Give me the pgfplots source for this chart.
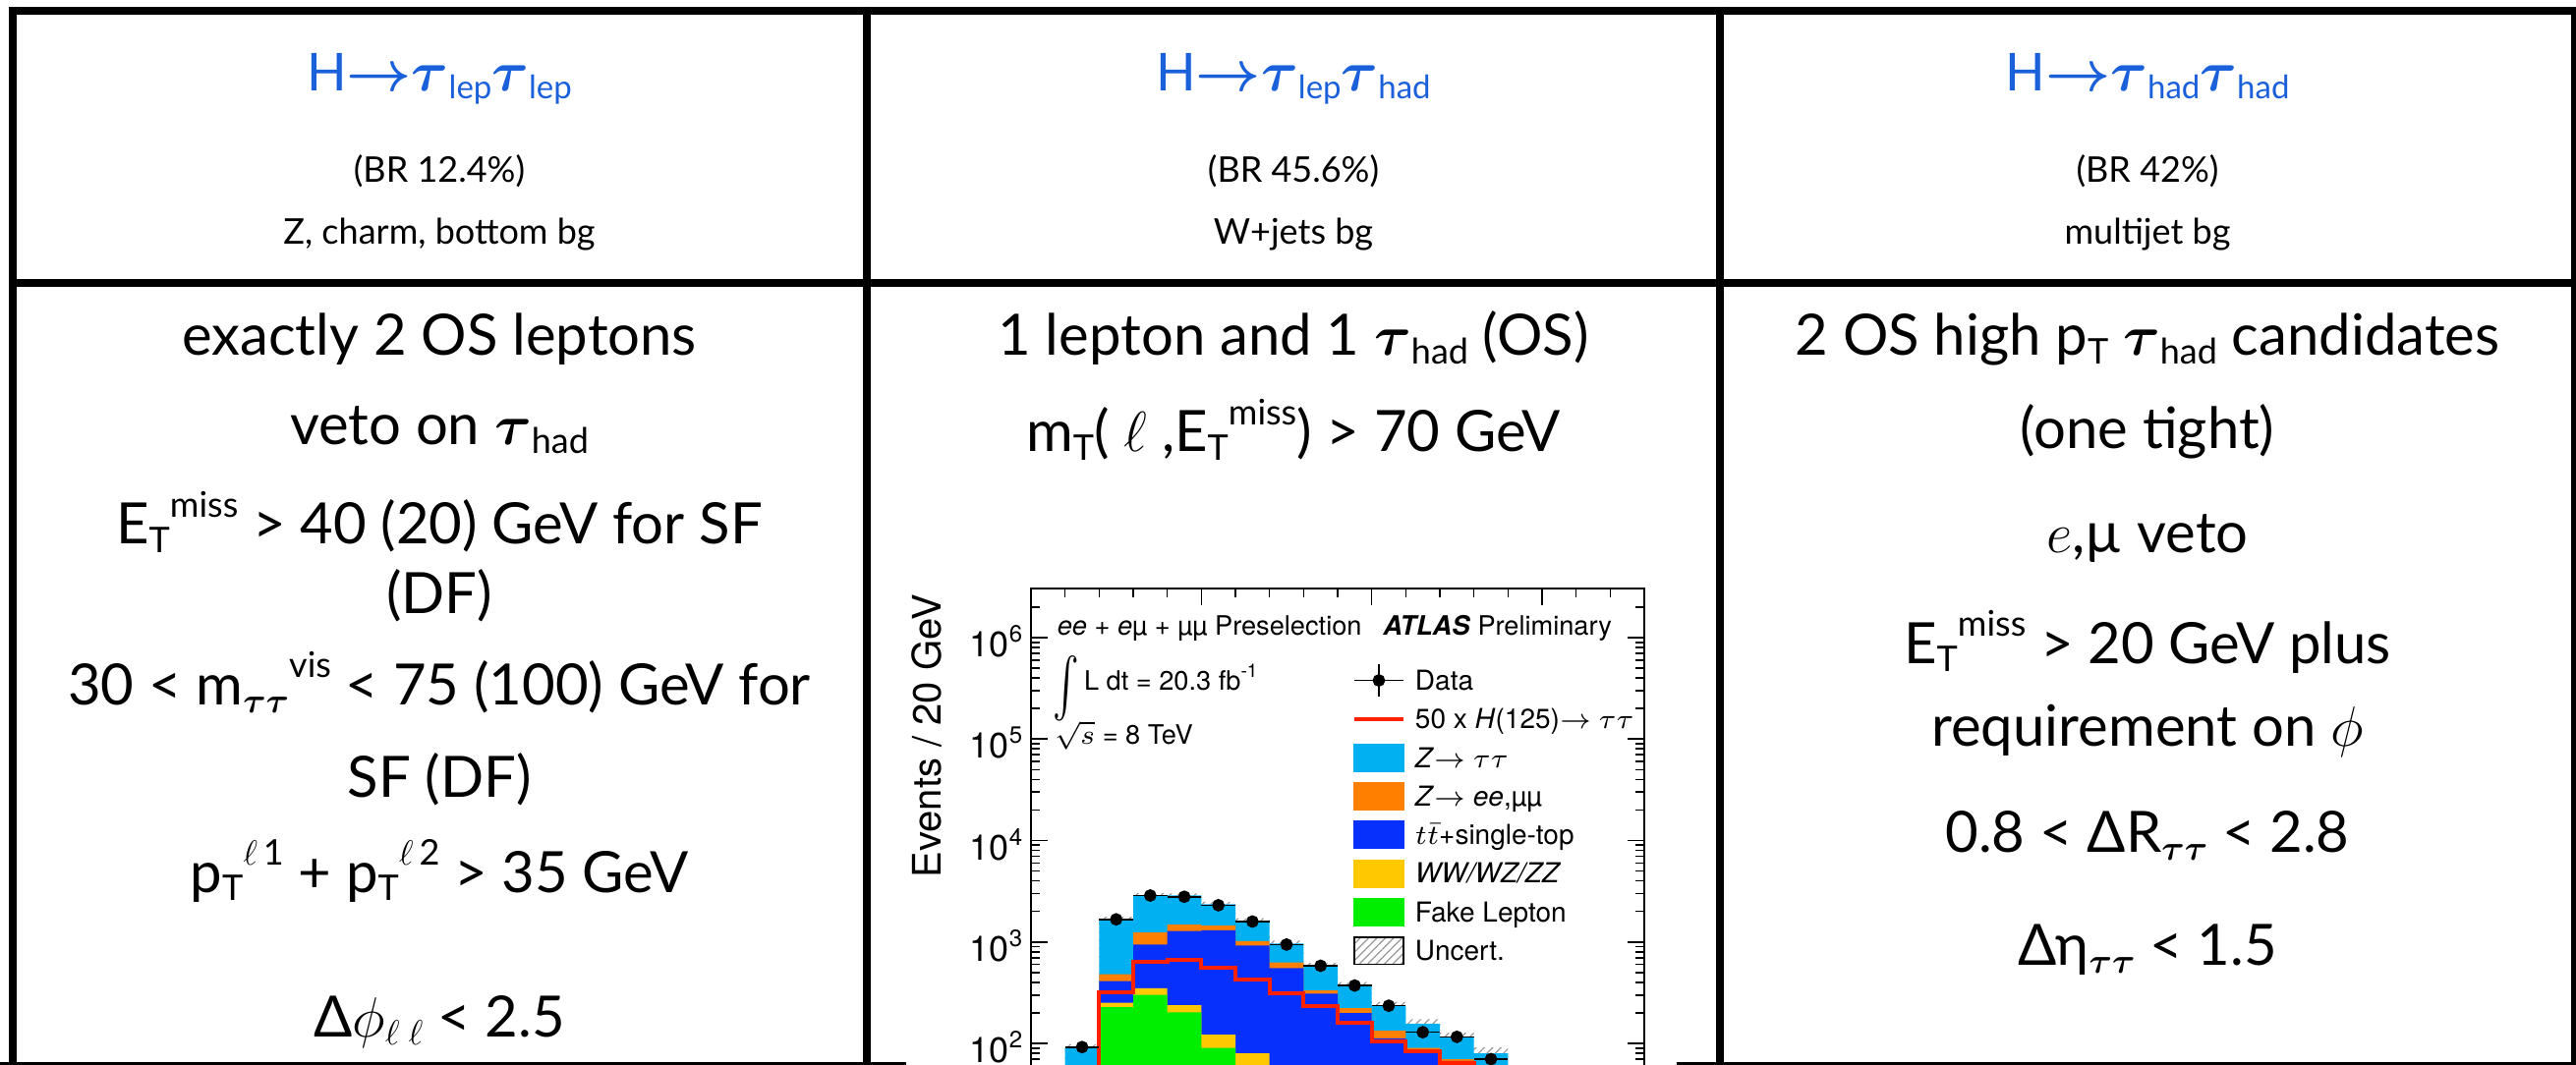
\documentclass[border=0pt]{standalone}
\usepackage{fontspec}
\setmainfont{Lato}
\newfontfamily\chartfont{TeX Gyre Heros}
\usepackage{bm}
\usepackage{graphicx}
\usepackage{pgfplots}
\pgfplotsset{compat=1.18}
\usepackage{pgfplotstable}
\usetikzlibrary{patterns.meta}

\definecolor{titleblue}{RGB}{26,96,218}
\definecolor{ztt}{RGB}{0,176,240}
\definecolor{zll}{RGB}{255,128,0}
\definecolor{ttop}{RGB}{8,48,252}
\definecolor{vv}{RGB}{255,200,0}
\definecolor{fake}{RGB}{0,238,0}
\definecolor{sig}{RGB}{255,32,0}

\newcommand{\sub}[1]{\raisebox{-0.28ex}{\scalebox{0.62}{#1}}}
\newcommand{\sups}[1]{\raisebox{0.95ex}{\scalebox{0.62}{#1}}}
\newcommand{\tauB}{$\bm{\tau}$}
\newcommand{\bodyfont}{\fontsize{14.5pt}{17pt}\selectfont}
\newcommand{\titlefont}{\fontsize{13.3pt}{15pt}\selectfont}
\newcommand{\headfont}{\fontsize{9pt}{10.5pt}\selectfont}
\newcommand{\plotfont}{\chartfont\fontsize{6.8pt}{8pt}\selectfont}
\newcommand{\legfont}{\chartfont\fontsize{7pt}{8pt}\selectfont}
\newcommand{\axisfont}{\chartfont\fontsize{9pt}{10pt}\selectfont}
\newcommand{\ylabfont}{\chartfont\fontsize{10pt}{11pt}\selectfont}

% Stack tops per 20 GeV bin (cumulative), data and 50 x signal
% x = bin centre; ztt = total stack, zll/top/vv/fake = tops of lower layers
\pgfplotstableread{
x    data  err   ztt   zll   top   vv    fake  sig  unc
30   92    9.6   91    30    25    15    10    20   0.08
50   1670  40.9  1690  480   410   252   228   318  0.05
70   2870  53.6  2900  1240  945   350   300   640  0.05
90   2790  52.8  2870  1480  1280  238   202   672  0.05
110  2300  48.0  2350  1450  1300  122   90    560  0.06
130  1590  39.9  1620  1020  922   80    45    425  0.06
150  943   30.7  963   627   552   45    25    309  0.07
170  582   24.1  582   333   309   30    15    235  0.07
190  372   19.3  372   223   199   20    10    160  0.08
210  235   15.3  235   133   112   14    6     105  0.09
230  129   11.4  156   90    86    9     4     83   0.11
250  116   10.8  114   70    67    6     3     64   0.12
270  70    8.4   80    50    46    4     2     45   0.14
290  45    6.7   52    32    30    3     1.5   30   0.15
310  30    5.5   34    21    19    2     1     20   0.16
330  18    4.2   22    14    12    1.5   0.7   13   0.18
350  12    3.5   14    9     8     1     0.5   8    0.20
}\hist

\begin{document}
\begin{tikzpicture}[x=0.25pt,y=0.25pt]

% table rules
\draw[line width=2pt] (9,1072.3) -- (2621,1072.3);
\draw[line width=2pt] (13,1076.3) -- (13,0);
\draw[line width=2pt] (9,795) -- (2621,795);
\draw[line width=2pt] (882,1076.3) -- (882,0);
\draw[line width=2pt] (1750,1076.3) -- (1750,0);
\draw[line width=2pt] (2620,1076.3) -- (2620,0);
\draw[line width=2pt] (0,-2) -- (922,-2);
\draw[line width=2pt] (1706,-2) -- (2621,-2);

% header row
\node[anchor=base, inner sep=0, text=titleblue, font=\titlefont] at (447,990)
  {H$\bm{\rightarrow}$\tauB\sub{lep}\tauB\sub{lep}};
\node[anchor=base, inner sep=0, text=titleblue, font=\titlefont] at (1316,990)
  {H$\bm{\rightarrow}$\tauB\sub{lep}\tauB\sub{had}};
\node[anchor=base, inner sep=0, text=titleblue, font=\titlefont] at (2185,990)
  {H$\bm{\rightarrow}$\tauB\sub{had}\tauB\sub{had}};
\node[anchor=base, inner sep=0, font=\headfont] at (447,897) {(BR 12.4\%)};
\node[anchor=base, inner sep=0, font=\headfont] at (1316,897) {(BR 45.6\%)};
\node[anchor=base, inner sep=0, font=\headfont] at (2185,897) {(BR 42\%)};
\node[anchor=base, inner sep=0, font=\headfont] at (447,834) {Z, charm, bottom bg};
\node[anchor=base, inner sep=0, font=\headfont] at (1316,834) {W+jets bg};
\node[anchor=base, inner sep=0, font=\headfont] at (2185,834) {multijet bg};

% lep-lep selection
\begin{scope}[every node/.style={anchor=base, inner sep=0, font=\bodyfont}]
\node at (447,721) {exactly 2 OS leptons};
\node at (447,630) {veto on \tauB\sub{had}};
\node at (447,529) {E\sub{T}\sups{miss} > 40 (20) GeV for SF};
\node at (447,459) {(DF)};
\node at (447,366) {30 < m\sub{$\bm{\tau\tau}$}\sups{vis} < 75 (100) GeV for};
\node at (447,272) {SF (DF)};
\node at (447,175) {p\sub{T}\sups{$\ell$\,1} + p\sub{T}\sups{$\ell$\,2} > 35 GeV};
\node at (447,28) {Δ$\phi$\sub{$\ell$\ $\ell$} < 2.5};
% lep-had selection
\node at (1316,721) {1 lepton and 1 \tauB\sub{had} (OS)};
\node at (1316,623) {m\sub{T}( $\ell$ ,E\sub{T}\sups{miss}) > 70 GeV};
% had-had selection
\node at (2185,721) {2 OS high p\sub{T} \tauB\sub{had} candidates};
\node at (2185,627) {(one tight)};
\node at (2185,521) {$e$,µ veto};
\node at (2185,408) {E\sub{T}\sups{miss} > 20 GeV plus};
\node at (2185,324) {requirement on $\phi$};
\node at (2185,216) {0.8 < ΔR\sub{$\bm{\tau\tau}$} < 2.8};
\node at (2185,101) {Δη\sub{$\bm{\tau\tau}$} < 1.5};
\end{scope}

% lower-left corner of the plot frame
\coordinate (frameLL) at (1049,-5);

% preselection distribution
\begin{axis}[
  at={(frameLL)}, anchor=south west, scale only axis,
  width=156pt, height=122.25pt,
  xmin=0, xmax=360, ymode=log, ymin=56.0, ymax=3.05e6,
  axis on top, clip=true,
  axis line style={line width=0.4pt},
  tick style={line width=0.4pt, black},
  tick align=inside,
  major tick length=4.25pt, minor tick length=2.25pt,
  xtick={0,100,200,300}, xticklabels={}, minor xtick={20,40,...,340}, xtick pos=right,
  ytick={100,1000,10000,100000,1000000},
  yticklabels={10\textsuperscript{2},10\textsuperscript{3},10\textsuperscript{4},10\textsuperscript{5},10\textsuperscript{6}},
  minor ytick={60,70,80,90,200,300,400,500,600,700,800,900,2000,3000,4000,5000,6000,7000,8000,9000,20000,30000,40000,50000,60000,70000,80000,90000,200000,300000,400000,500000,600000,700000,800000,900000,2000000},
  yticklabel style={font=\axisfont, inner xsep=1.5pt, yshift=-1pt},
  ylabel={Events / 20 GeV},
  every axis y label/.style={at={(rel axis cs:-0.170,0.693)}, rotate=90, anchor=center, font=\ylabfont},
  legend style={at={(rel axis cs:0.524,0.8434)}, anchor=north west, draw=none, fill=none,
    inner sep=0pt, outer sep=0pt, font=\legfont, row sep=0pt,
    nodes={inner sep=0pt, text height=6.6pt, text depth=3.23pt, anchor=base west},
    /tikz/every odd column/.style={column sep=2.5pt}},
  legend cell align=left,
]
% uncertainty band: only its part above the stack stays visible
\addplot[ybar, bar width=20, bar shift=0pt, draw=none, forget plot,
  pattern={Lines[angle=45,distance=1.5pt,line width=0.3pt]}, pattern color=gray!80]
  table[x=x, y expr=\thisrow{ztt}*(1+\thisrow{unc})] {\hist};
% stacked backgrounds, drawn from the total downwards
\addplot[ybar, bar width=20, bar shift=0pt, fill=ztt, draw=none, forget plot] table[x=x, y=ztt] {\hist};
\addplot[ybar, bar width=20, bar shift=0pt, fill=zll, draw=none, forget plot] table[x=x, y=zll] {\hist};
\addplot[ybar, bar width=20, bar shift=0pt, fill=ttop, draw=none, forget plot] table[x=x, y=top] {\hist};
\addplot[ybar, bar width=20, bar shift=0pt, fill=vv, draw=none, forget plot] table[x=x, y=vv] {\hist};
\addplot[ybar, bar width=20, bar shift=0pt, fill=fake, draw=none, forget plot] table[x=x, y=fake] {\hist};
% 50 x signal
\addplot[sig, line width=1pt, const plot mark mid, mark=none, forget plot] table[x=x, y=sig] {\hist};
% data
\addplot[black, only marks, mark=*, mark size=1.4pt, forget plot,
  error bars/.cd, x dir=both, x fixed=10, y dir=both, y explicit, error mark=none,
  error bar style={line width=0.4pt, black}]
  table[x=x, y=data, y error=err] {\hist};

% legend
\addlegendimage{legend image code/.code={
  \draw[black, line width=0.4pt] (0pt,2.45pt) -- (12.5pt,2.45pt);
  \draw[black, line width=0.4pt] (6.25pt,-1.6pt) -- (6.25pt,6.5pt);
  \fill[black] (6.25pt,2.45pt) circle (1.4pt);}}
\addlegendentry{Data}
\addlegendimage{legend image code/.code={\draw[sig, line width=1pt] (0pt,2.45pt) -- (12.5pt,2.45pt);}}
\addlegendentry{50 x \textit{H}(125)$\rightarrow$ $\tau\tau$}
\addlegendimage{legend image code/.code={\fill[ztt] (0pt,-1pt) rectangle (12.5pt,5.9pt);}}
\addlegendentry{\textit{Z}$\rightarrow$ $\tau\tau$}
\addlegendimage{legend image code/.code={\fill[zll] (0pt,-1pt) rectangle (12.5pt,5.9pt);}}
\addlegendentry{\textit{Z}$\rightarrow$ \textit{ee},µµ}
\addlegendimage{legend image code/.code={\fill[ttop] (0pt,-1pt) rectangle (12.5pt,5.9pt);}}
\addlegendentry{$t\bar{t}$+single-top}
\addlegendimage{legend image code/.code={\fill[vv] (0pt,-1pt) rectangle (12.5pt,5.9pt);}}
\addlegendentry{\textit{WW/WZ/ZZ}}
\addlegendimage{legend image code/.code={\fill[fake] (0pt,-1pt) rectangle (12.5pt,5.9pt);}}
\addlegendentry{Fake Lepton}
\addlegendimage{legend image code/.code={\fill[pattern={Lines[angle=45,distance=1.5pt,line width=0.3pt]}, pattern color=gray!80] (0pt,-1pt) rectangle (12.5pt,5.9pt);}}
\addlegendentry{Uncert.}
\end{axis}

% plot annotations
\node[anchor=base west, inner sep=0, font=\plotfont] at (1075,437)
  {\textit{ee} + \textit{e}µ + µµ Preselection\hspace{0.8em}\textbf{\textit{ATLAS}} Preliminary};
\node[anchor=base west, inner sep=0, font=\plotfont] at (1071,381)
  {\raisebox{-0.35em}{\scalebox{1}[1.5]{$\int$}}\,L dt = 20.3 fb\textsuperscript{-1}};
\node[anchor=base west, inner sep=0, font=\plotfont] at (1072,326) {$\sqrt{s}$ = 8 TeV};

\pgfresetboundingbox
\useasboundingbox (0,0) rectangle (2621,1083);
\end{tikzpicture}
\end{document}
